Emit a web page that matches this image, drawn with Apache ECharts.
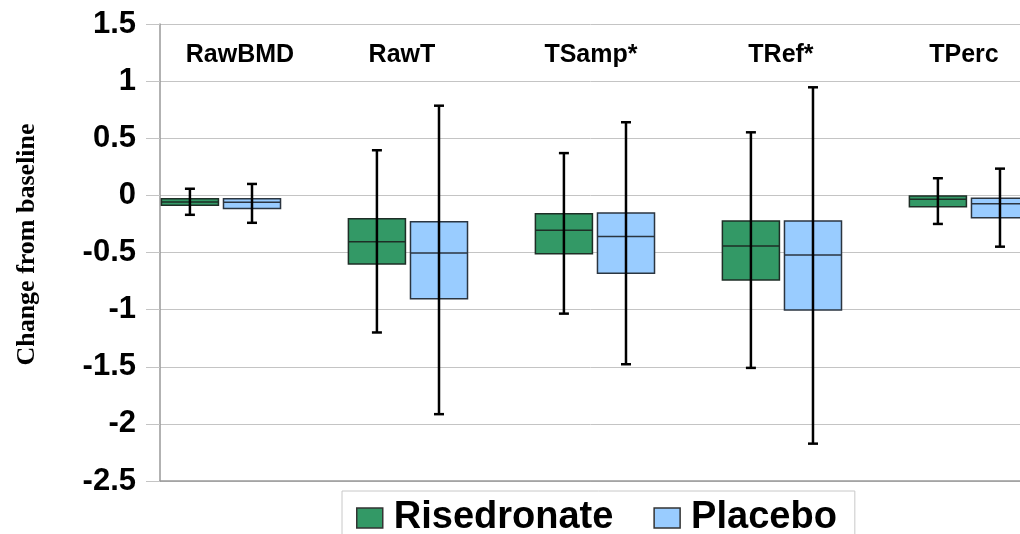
<!DOCTYPE html>
<html>
<head>
<meta charset="utf-8">
<script src="https://cdn.jsdelivr.net/npm/echarts@6/dist/echarts.min.js"></script>
<style>
  html, body { margin: 0; padding: 0; background: #ffffff; }
  #chart { width: 1020px; height: 534px; }
</style>
</head>
<body>
<div id="chart"></div>
<script>
// ---------- data ----------
var categories = ['RawBMD', 'RawT', 'TSamp*', 'TRef*', 'TPerc'];
// each row: [whisker min, Q1, median, Q3, whisker max]
var risedronate = [
  [-0.17, -0.087, -0.058, -0.029, 0.058],
  [-1.20, -0.60, -0.405, -0.205, 0.395],
  [-1.035, -0.51, -0.305, -0.16, 0.37],
  [-1.51, -0.74, -0.443, -0.224, 0.552],
  [-0.25, -0.10, -0.034, -0.005, 0.15]
];
var placebo = [
  [-0.24, -0.115, -0.06, -0.03, 0.10],
  [-1.915, -0.905, -0.505, -0.23, 0.785],
  [-1.478, -0.682, -0.361, -0.154, 0.64],
  [-2.173, -1.003, -0.522, -0.224, 0.946],
  [-0.449, -0.195, -0.073, -0.025, 0.234]
];
var yTicks = { min: -2.5, max: 1.5, interval: 0.5 };
var seriesNames = ['Risedronate', 'Placebo'];

// ---------- layout / style ----------
var GREEN = '#339966';
var BLUE = '#99CCFF';
var BOX_W = 0.305;          // box width in category units
var BOX_OFF = 0.166;        // offset of each box from group centre
var LABEL_Y = 1.229;        // value level of the group labels
var labelNudgePx = [19, -6, -4, -1, -5];

function toRows(arr) {
  return arr.map(function (r, i) { return [i].concat(r); });
}

function boxRenderer(offset, fill, stroke) {
  return function (params, api) {
    var x = api.value(0) + offset;
    var pMin = api.coord([x, api.value(1)]);
    var pQ1 = api.coord([x, api.value(2)]);
    var pMed = api.coord([x, api.value(3)]);
    var pQ3 = api.coord([x, api.value(4)]);
    var pMax = api.coord([x, api.value(5)]);
    var w = api.size([BOX_W, 0])[0];
    var cx = pMed[0];
    var capHalf = 5;
    var lineStyle = { stroke: '#000', lineWidth: 2.5 };
    return {
      type: 'group',
      children: [
        { type: 'rect', shape: { x: cx - w / 2, y: pQ3[1], width: w, height: pQ1[1] - pQ3[1] },
          style: { fill: fill, stroke: stroke, lineWidth: 1.5 } },
        { type: 'line', shape: { x1: cx - w / 2, y1: pMed[1], x2: cx + w / 2, y2: pMed[1] },
          style: { stroke: stroke, lineWidth: 1.5 } },
        { type: 'line', shape: { x1: cx, y1: pMax[1], x2: cx, y2: pMin[1] }, style: lineStyle },
        { type: 'line', shape: { x1: cx - capHalf, y1: pMax[1], x2: cx + capHalf, y2: pMax[1] }, style: lineStyle },
        { type: 'line', shape: { x1: cx - capHalf, y1: pMin[1], x2: cx + capHalf, y2: pMin[1] }, style: lineStyle }
      ]
    };
  };
}

var chart = echarts.init(document.getElementById('chart'), null, { renderer: 'canvas' });

var option = {
  animation: false,
  backgroundColor: '#ffffff',
  grid: { left: 160, top: 24, width: 880, height: 457, containLabel: false, outerBoundsMode: 'none' },
  xAxis: {
    type: 'value',
    min: -0.326,
    max: 4.38,
    axisLine: { show: true, onZero: false, lineStyle: { color: '#999999', width: 1.5 } },
    axisTick: { show: false },
    axisLabel: { show: false },
    splitLine: { show: false }
  },
  yAxis: {
    type: 'value',
    min: yTicks.min,
    max: yTicks.max,
    interval: yTicks.interval,
    name: 'Change from baseline',
    nameLocation: 'middle',
    nameRotate: 90,
    nameGap: 120,
    nameTextStyle: { fontFamily: '"Liberation Serif", "DejaVu Serif", serif', fontWeight: 'bold', fontSize: 26, color: '#000', padding: [0, 0, 0, 16] },
    axisLine: { show: true, onZero: false, lineStyle: { color: '#999999', width: 1.5 } },
    axisTick: { show: true, inside: false, length: 14, lineStyle: { color: '#c4c4c4', width: 1 } },
    axisLabel: { margin: 24, fontFamily: '"Liberation Sans", Arial, sans-serif', fontWeight: 'bold', fontSize: 31, color: '#000' },
    splitLine: { show: true, lineStyle: { color: '#c4c4c4', width: 1 } }
  },
  legend: {
    data: [
      { name: seriesNames[0], icon: 'rect', itemStyle: { color: GREEN, borderColor: '#333', borderWidth: 1.5 } },
      { name: seriesNames[1], icon: 'rect', itemStyle: { color: BLUE, borderColor: '#333', borderWidth: 1.5 } }
    ],
    left: 342,
    top: 491,
    orient: 'horizontal',
    padding: [8, 18, 30, 14],
    borderColor: '#c8c8c8',
    borderWidth: 1,
    itemWidth: 26,
    itemHeight: 20,
    itemGap: 40,
    selectedMode: false,
    textStyle: { fontFamily: '"Liberation Sans", Arial, sans-serif', fontWeight: 'bold', fontSize: 38, color: '#000', padding: [0, 0, 0, 6] }
  },
  series: [
    {
      name: seriesNames[0],
      type: 'custom',
      renderItem: boxRenderer(-BOX_OFF, GREEN, '#1e2e26'),
      itemStyle: { color: GREEN },
      encode: { x: 0, y: [1, 2, 3, 4, 5] },
      data: toRows(risedronate),
      z: 3
    },
    {
      name: seriesNames[1],
      type: 'custom',
      renderItem: boxRenderer(BOX_OFF, BLUE, '#2b3540'),
      itemStyle: { color: BLUE },
      encode: { x: 0, y: [1, 2, 3, 4, 5] },
      data: toRows(placebo),
      z: 3
    },
    {
      name: 'labels',
      type: 'custom',
      silent: true,
      renderItem: function (params, api) {
        var p = api.coord([api.value(0), api.value(1)]);
        var i = params.dataIndex;
        return {
          type: 'text',
          style: {
            text: categories[i],
            x: p[0] + labelNudgePx[i],
            y: p[1],
            align: 'center',
            verticalAlign: 'middle',
            font: 'bold 25px "Liberation Sans", Arial, sans-serif',
            fill: '#000'
          }
        };
      },
      encode: { x: 0, y: 1 },
      data: categories.map(function (c, i) { return [i, LABEL_Y]; }),
      z: 4
    }
  ]
};

chart.setOption(option);
</script>
</body>
</html>
